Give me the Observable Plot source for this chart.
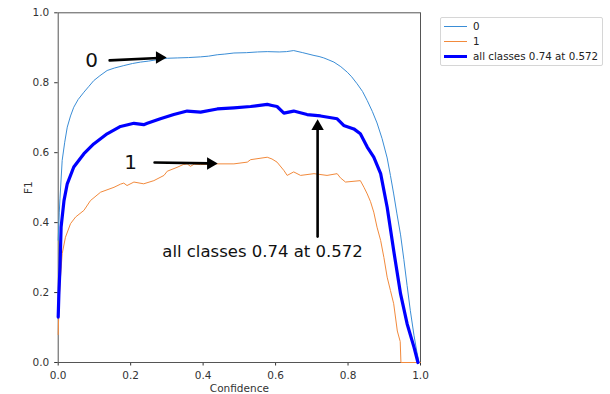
<!DOCTYPE html>
<html><head><meta charset="utf-8">
<script src="https://cdn.jsdelivr.net/npm/d3@7"></script>
<script src="https://cdn.jsdelivr.net/npm/@observablehq/plot@0.6"></script>
<style>
body{margin:0;background:#fff;font-family:"DejaVu Sans",sans-serif;}
#wrap{position:relative;width:610px;height:394px;}
#legend{position:absolute;left:440px;top:17px;width:161px;height:47px;border:1px solid #d6d6d6;border-radius:2px;background:#fff;font-size:10.3px;color:#222;}
.row{position:absolute;left:0;height:14px;display:flex;align-items:center;white-space:nowrap;}
.sw{display:inline-block;width:23px;margin-left:3px;margin-right:6px;}
</style>
</head><body>
<div id="wrap"><div id="chart"></div>
<div id="legend"></div></div>
<script>
// ---- data ----
const seriesNames = ["0", "1", "all classes 0.74 at 0.572"];
const seriesColors = ["#3a8dd6", "#f28a3c", "#0000ff"];
const seriesWidths = [1, 1, 3.2];

const conf0 = [0,0.003,0.005,0.011,0.018,0.025,0.034,0.043,0.055,0.071,0.085,0.098,0.115,0.135,0.155,0.181,0.205,0.227,0.25,0.273,0.301,0.33,0.36,0.393,0.415,0.439,0.46,0.485,0.52,0.55,0.577,0.61,0.63,0.65,0.675,0.706,0.72,0.733,0.745,0.761,0.78,0.798,0.81,0.825,0.84,0.853,0.867,0.88,0.894,0.908,0.917,0.926,0.935,0.945,0.954,0.963,0.972,0.982,0.99,0.996];
const f1_0  = [0.35,0.43,0.47,0.578,0.63,0.673,0.705,0.73,0.752,0.773,0.79,0.806,0.82,0.835,0.842,0.849,0.855,0.859,0.862,0.866,0.87,0.871,0.872,0.874,0.876,0.88,0.882,0.885,0.886,0.888,0.889,0.888,0.889,0.892,0.886,0.878,0.875,0.871,0.866,0.859,0.846,0.83,0.817,0.797,0.775,0.749,0.718,0.685,0.64,0.585,0.535,0.482,0.425,0.365,0.295,0.22,0.148,0.078,0.03,0];

const conf1 = [0,0.002,0.005,0.011,0.02,0.034,0.048,0.071,0.089,0.117,0.154,0.172,0.181,0.19,0.209,0.236,0.264,0.292,0.301,0.328,0.345,0.356,0.365,0.375,0.393,0.439,0.485,0.522,0.531,0.577,0.59,0.604,0.623,0.632,0.65,0.669,0.706,0.742,0.77,0.779,0.793,0.834,0.844,0.853,0.862,0.871,0.88,0.89,0.899,0.908,0.917,0.926,0.936,0.944,0.946,1];
const f1_1  = [0.08,0.16,0.225,0.311,0.358,0.397,0.416,0.435,0.463,0.487,0.501,0.51,0.513,0.506,0.516,0.511,0.52,0.535,0.547,0.558,0.566,0.568,0.561,0.567,0.566,0.568,0.568,0.573,0.58,0.587,0.582,0.573,0.549,0.535,0.545,0.535,0.54,0.535,0.54,0.528,0.516,0.52,0.501,0.482,0.46,0.43,0.387,0.349,0.3,0.244,0.206,0.168,0.09,0.06,0,0];

const confAll = [0,0.002,0.005,0.008,0.016,0.025,0.043,0.071,0.098,0.135,0.172,0.209,0.236,0.246,0.282,0.319,0.356,0.393,0.439,0.485,0.531,0.577,0.59,0.604,0.623,0.65,0.687,0.724,0.77,0.788,0.816,0.834,0.853,0.871,0.89,0.908,0.926,0.945,0.963,0.982,0.993];
const f1All  = [0.13,0.2,0.273,0.387,0.463,0.511,0.559,0.597,0.625,0.654,0.675,0.684,0.68,0.684,0.697,0.709,0.719,0.716,0.725,0.728,0.732,0.738,0.735,0.732,0.713,0.719,0.709,0.705,0.697,0.678,0.668,0.654,0.616,0.587,0.54,0.444,0.32,0.196,0.111,0.044,0];

const tickValues = [0, 0.2, 0.4, 0.6, 0.8, 1.0];
const xLabel = "Confidence";
const yLabel = "F1";

// annotations: label text, label position, arrow start and tip
const annoLabels = ["0", "1", "all classes 0.74 at 0.572"];
const annoLabelX = [0.092, 0.2, 0.564];
const annoLabelY = [0.862, 0.572, 0.317];
const arrowX1 = [0.142, 0.266, 0.716];
const arrowY1 = [0.864, 0.572, 0.36];
const arrowX2 = [0.299, 0.44, 0.716];
const arrowY2 = [0.872, 0.569, 0.695];

// ---- build tables ----
const mk = (xs, ys, s) => xs.map((x, i) => ({x, y: ys[i], s}));
const lines = [mk(conf0, f1_0, 0), mk(conf1, f1_1, 1), mk(confAll, f1All, 2)];
const labels = annoLabels.map((t, i) => ({t, x: annoLabelX[i], y: annoLabelY[i]}));
const arrows = annoLabels.map((t, i) => ({x1: arrowX1[i], y1: arrowY1[i], x2: arrowX2[i], y2: arrowY2[i], horiz: i < 2}));

const chart = Plot.plot({
  width: 610, height: 394,
  marginLeft: 57.7, marginRight: 190, marginTop: 12.3, marginBottom: 32,
  style: {fontFamily: "DejaVu Sans, sans-serif", fontSize: "10.5px", color: "#333", background: "transparent"},
  x: {domain: [0, 1], ticks: tickValues, tickFormat: d => d.toFixed(1), tickSize: 3.5, label: xLabel, labelAnchor: "center", labelOffset: 29, labelArrow: "none"},
  y: {domain: [0, 1], ticks: tickValues, tickFormat: d => d.toFixed(1), tickSize: 3.5, label: yLabel, labelAnchor: "center", labelOffset: 34, labelArrow: "none"},
  marks: [
    Plot.frame({stroke: "#555", strokeWidth: 1}),
    ...lines.map((d, i) => Plot.line(d, {x: "x", y: "y", stroke: seriesColors[i], strokeWidth: seriesWidths[i], strokeLinejoin: "round"})),
    Plot.arrow(arrows, {x1: "x1", y1: "y1", x2: "x2", y2: "y2", stroke: "black", strokeWidth: 2.6, headLength: 0, insetEnd: 8, bend: 0}),
    Plot.dot(arrows.filter(a => a.horiz), {x: "x2", y: "y2", symbol: "triangle", r: 4.6, fill: "black", stroke: "none", rotate: 90, dx: -7}),
    Plot.dot(arrows.filter(a => !a.horiz), {x: "x2", y: "y2", symbol: "triangle", r: 4.6, fill: "black", stroke: "none", dy: 7}),
    Plot.text(labels.slice(0, 2), {x: "x", y: "y", text: "t", fontSize: 20, fill: "#111"}),
    Plot.text(labels.slice(2), {x: "x", y: "y", text: "t", fontSize: 16.5, fill: "#111"})
  ]
});
document.getElementById("chart").appendChild(chart);

// legend
const lg = document.getElementById("legend");
seriesNames.forEach((n, i) => {
  const row = document.createElement("div");
  row.className = "row";
  row.style.top = (1 + i * 15) + "px";
  const sw = document.createElement("span");
  sw.className = "sw";
  sw.style.borderTop = seriesWidths[i] + "px solid " + seriesColors[i];
  row.appendChild(sw);
  const tx = document.createElement("span");
  tx.textContent = n;
  row.appendChild(tx);
  lg.appendChild(row);
});
</script>
</body></html>
